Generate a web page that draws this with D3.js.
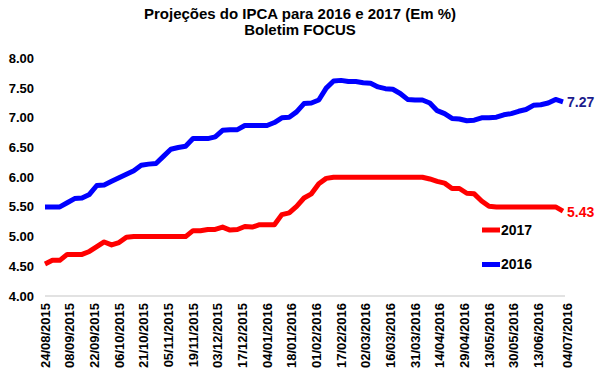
<!DOCTYPE html>
<html>
<head>
<meta charset="utf-8">
<script src="https://cdn.jsdelivr.net/npm/d3@7"></script>
<style>
  body { margin: 0; background: #fff; }
  text { font-family: "Liberation Sans", Arial, sans-serif; font-weight: bold; }
</style>
</head>
<body>
<div id="chart"></div>
<script>
// daily series (business days), read every 3rd business day
var step = 3;
var ipca2016 = [5.50, 5.50, 5.50, 5.57, 5.64, 5.65, 5.71, 5.86, 5.87, 5.93,
  5.99, 6.05, 6.11, 6.20, 6.22, 6.23, 6.35, 6.47, 6.50, 6.52,
  6.65, 6.65, 6.65, 6.68, 6.79, 6.80, 6.80, 6.87, 6.87, 6.87,
  6.87, 6.92, 7.00, 7.01, 7.10, 7.24, 7.25, 7.30, 7.50, 7.62,
  7.63, 7.61, 7.61, 7.59, 7.58, 7.52, 7.49, 7.48, 7.41, 7.31,
  7.30, 7.30, 7.25, 7.12, 7.07, 6.99, 6.98, 6.95, 6.96, 7.00,
  7.00, 7.01, 7.05, 7.07, 7.11, 7.14, 7.21, 7.22, 7.25, 7.31,
  7.27];
var ipca2017 = [4.54, 4.60, 4.60, 4.70, 4.70, 4.70, 4.75, 4.83, 4.91, 4.86,
  4.90, 4.99, 5.00, 5.00, 5.00, 5.00, 5.00, 5.00, 5.00, 5.00,
  5.10, 5.10, 5.12, 5.12, 5.16, 5.11, 5.12, 5.17, 5.16, 5.20,
  5.20, 5.20, 5.37, 5.40, 5.51, 5.65, 5.72, 5.89, 5.98, 6.00,
  6.00, 6.00, 6.00, 6.00, 6.00, 6.00, 6.00, 6.00, 6.00, 6.00,
  6.00, 6.00, 5.97, 5.93, 5.90, 5.81, 5.81, 5.73, 5.72, 5.60,
  5.51, 5.50, 5.50, 5.50, 5.50, 5.50, 5.50, 5.50, 5.50, 5.50,
  5.43];

var xTickLabels = ["24/08/2015", "08/09/2015", "22/09/2015", "06/10/2015", "21/10/2015",
  "05/11/2015", "19/11/2015", "03/12/2015", "17/12/2015", "04/01/2016", "18/01/2016",
  "01/02/2016", "17/02/2016", "02/03/2016", "16/03/2016", "31/03/2016", "14/04/2016",
  "29/04/2016", "13/05/2016", "30/05/2016", "13/06/2016", "04/07/2016"];
var xTickDays = [0, 10, 20, 30, 40, 50, 60, 70, 80, 90, 100,
  110, 120, 130, 140, 150, 160, 170, 180, 190, 200, 212];
var yTicks = [4.0, 4.5, 5.0, 5.5, 6.0, 6.5, 7.0, 7.5, 8.0];

var series = [
  {name: "2016", values: ipca2016, color: "#0000ff", labelColor: "#1c1c8c"},
  {name: "2017", values: ipca2017, color: "#ff0000", labelColor: "#ff0000"}
];

var W = 600, H = 378;
var lastDay = (ipca2016.length - 1) * step;

var x = d3.scaleLinear().domain([0, lastDay]).range([45, 563]);
var y = d3.scaleLinear().domain([4, 8]).range([296, 58.4]);

var svg = d3.select("#chart").append("svg")
    .attr("width", W)
    .attr("height", H);

// title
svg.append("text")
    .attr("x", 300).attr("y", 19)
    .attr("text-anchor", "middle")
    .style("font-size", "15px")
    .text("Projeções do IPCA para 2016 e 2017 (Em %)");
svg.append("text")
    .attr("x", 300).attr("y", 34.5)
    .attr("text-anchor", "middle")
    .style("font-size", "15px")
    .text("Boletim FOCUS");

// y axis labels (no line)
svg.selectAll(".ylab")
    .data(yTicks)
    .enter().append("text")
    .attr("class", "ylab")
    .attr("x", 34)
    .attr("y", function(d) { return y(d); })
    .attr("dy", "0.35em")
    .attr("text-anchor", "end")
    .style("font-size", "13px")
    .text(function(d) { return d3.format(".2f")(d); });

// x axis line
svg.append("line")
    .attr("x1", x(0)).attr("x2", x(lastDay) + 2)
    .attr("y1", y(4)).attr("y2", y(4))
    .style("stroke", "#d9d9d9")
    .style("stroke-width", 1.5);

svg.selectAll(".xlab")
    .data(xTickLabels)
    .enter().append("text")
    .attr("class", "xlab")
    .attr("transform", function(d, i) { return "translate(" + x(xTickDays[i]) + ",303) rotate(-90)"; })
    .attr("dy", "0.35em")
    .attr("text-anchor", "end")
    .style("font-size", "13px")
    .text(function(d) { return d; });

var line = d3.line()
    .x(function(d, i) { return x(i * step); })
    .y(function(d) { return y(d); });

svg.selectAll(".serie")
    .data(series)
    .enter().append("path")
    .attr("class", "serie")
    .attr("d", function(d) { return line(d.values); })
    .style("fill", "none")
    .style("stroke", function(d) { return d.color; })
    .style("stroke-width", 5)
    .style("stroke-linejoin", "round");

// end labels
svg.selectAll(".endlab")
    .data(series)
    .enter().append("text")
    .attr("class", "endlab")
    .attr("x", x(lastDay) + 4)
    .attr("y", function(d) { return y(d.values[d.values.length - 1]); })
    .attr("dy", "0.4em")
    .style("font-size", "14px")
    .style("fill", function(d) { return d.labelColor; })
    .text(function(d) { return d3.format(".2f")(d.values[d.values.length - 1]); });

// legend
var legend = svg.selectAll(".legend")
    .data(["2017", "2016"])
    .enter().append("g")
    .attr("class", "legend")
    .attr("transform", function(d, i) { return "translate(482," + (230 + i * 34.5) + ")"; });

legend.append("line")
    .attr("x1", 0).attr("x2", 18)
    .style("stroke", function(d) { return d == "2017" ? "#ff0000" : "#0000ff"; })
    .style("stroke-width", 5);

legend.append("text")
    .attr("x", 19)
    .attr("dy", "0.35em")
    .style("font-size", "14px")
    .text(function(d) { return d; });
</script>
</body>
</html>
